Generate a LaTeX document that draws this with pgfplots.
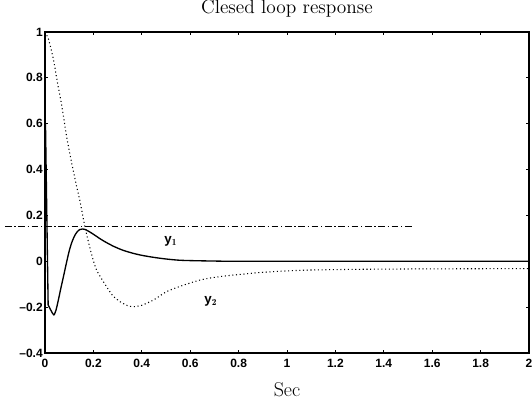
\documentclass[border=0pt]{standalone}
\usepackage{fontspec}
\usepackage{pgfplots}
\pgfplotsset{compat=1.18}
\newfontfamily\tickfont{Liberation Sans}
\begin{document}
\begin{tikzpicture}
\begin{axis}[
  scale only axis,
  width=363pt, height=240.75pt,
  xmin=0, xmax=2, ymin=-0.4, ymax=1,
  clip=false,
  axis line style={line width=0.9pt},
  tick style={line width=0.6pt, black},
  major tick length=2.5pt,
  tick align=inside,
  xtick={0,0.2,0.4,0.6,0.8,1,1.2,1.4,1.6,1.8,2},
  xticklabels={0,0.2,0.4,0.6,0.8,1,1.2,1.4,1.6,1.8,2},
  ytick={-0.4,-0.2,0,0.2,0.4,0.6,0.8,1},
  yticklabels={\textendash0.4,\textendash0.2,0,0.2,0.4,0.6,0.8,1},
  ticklabel style={font=\tickfont\bfseries\fontsize{9}{10}\selectfont},
  yticklabel style={inner sep=1.5pt},
  xticklabel style={yshift=-1pt},
  title={Clesed loop response},
  title style={at={(0.5,1)}, anchor=base, yshift=7.5pt, font=\fontsize{14.5}{16}\selectfont},
  xlabel={Sec},
  xlabel style={at={(0.5,0)}, anchor=base, yshift=-33pt, font=\fontsize{15}{17}\selectfont},
]
% reference level (dash-dot)
\addplot[black, line width=0.5pt, dash pattern=on 5pt off 2pt on 1pt off 2pt] coordinates {(-0.165,0.151) (1.52,0.151)};
% y1 (solid): initial spike
\addplot[black, line width=1pt] coordinates {
(0,0) (0.002,0.6) (0.013,-0.19) (0.02,-0.205) (0.03,-0.225) (0.037,-0.235)};
% y1 (solid): remaining response
\addplot[black, line width=1pt, smooth, tension=0.5] coordinates {
(0.037,-0.235) (0.045,-0.215) (0.055,-0.17) (0.065,-0.12) (0.076,-0.068)
(0.088,-0.01) (0.1,0.045) (0.11,0.08) (0.12,0.106) (0.131,0.126) (0.143,0.138)
(0.156,0.141) (0.168,0.138) (0.18,0.131) (0.2,0.118) (0.225,0.1) (0.25,0.084)
(0.282,0.066) (0.32,0.049) (0.36,0.036) (0.4,0.026) (0.45,0.017) (0.5,0.01)
(0.55,0.005) (0.6,0.003) (0.7,0.001) (0.8,0) (1.2,0) (2,0)};
% y2 (dotted)
\addplot[black, line width=0.8pt, dash pattern=on 0.8pt off 2pt, smooth, tension=0.4] coordinates {
(0,1) (0.014,0.97) (0.034,0.885) (0.052,0.776) (0.069,0.68) (0.09,0.54) (0.11,0.43)
(0.13,0.33) (0.145,0.26) (0.165,0.15) (0.19,0.04) (0.213,-0.038) (0.254,-0.11)
(0.28,-0.15) (0.31,-0.176) (0.34,-0.193) (0.365,-0.198) (0.4,-0.192) (0.45,-0.168)
(0.503,-0.132) (0.57,-0.105) (0.64,-0.082) (0.7,-0.07) (0.78,-0.06) (0.9,-0.048)
(1.0,-0.042) (1.1,-0.038) (1.3,-0.035) (1.6,-0.033) (2,-0.032)};
\node[font=\tickfont\bfseries\fontsize{10}{11}\selectfont] at (axis cs:0.52,0.085) {y$_{\mathbf{1}}$};
\node[font=\tickfont\bfseries\fontsize{10}{11}\selectfont] at (axis cs:0.685,-0.176) {y$_{\mathbf{2}}$};
\end{axis}
\pgfresetboundingbox
\path[use as bounding box] (current axis.south west) ++(-33.75pt,-34.5pt) rectangle ++(399pt,299.25pt);
\end{tikzpicture}
\end{document}
